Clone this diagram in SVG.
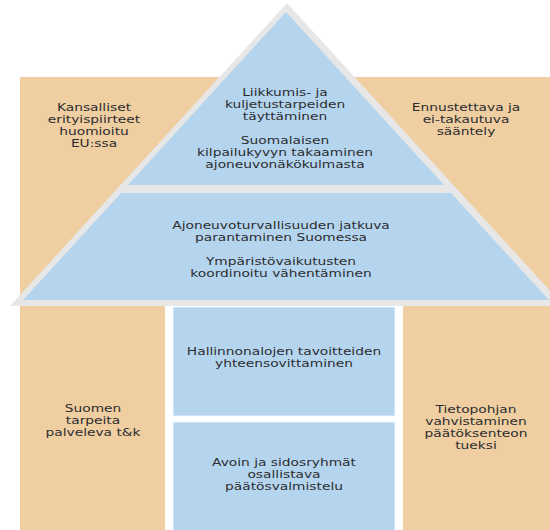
<svg xmlns="http://www.w3.org/2000/svg" width="550" height="530" viewBox="0 0 550 530">
<style>
.or{fill:#EFCEA1}
.bl{fill:#B5D5EE}
.bx{fill:#B5D5EE;stroke:#CFE3F4;stroke-width:1}
.gr{fill:#E7E7E7}
.t{font-family:"DejaVu Sans","Verdana",sans-serif;font-size:11.3px;fill:#2c2d30;text-anchor:middle}
</style>
<rect width="550" height="530" fill="#FFFFFF"/>
<g id="side-panels">
<rect class="or" x="20" y="77" width="530" height="453"/>
</g>
<g id="roof-frame">
<polygon class="gr" points="287,3 10,306 564,306"/>
</g>
<g id="top-triangle">
<polygon class="bl" points="286,12 128,185 444,185"/>
</g>
<g id="trapezoid">
<polygon class="bl" points="121,193 451,193 549,300 23,300"/>
</g>
<rect x="165" y="306" width="238" height="224" fill="#FFFFFF"/>
<g id="pillar-top">
<rect class="bx" x="173.5" y="307.5" width="221" height="108"/>
</g>
<g id="pillar-bottom">
<rect class="bx" x="173.5" y="422.5" width="221" height="108"/>
</g>
<g id="connectors"></g>
<g id="label-top-left" transform="translate(94 0) scale(1.22 1)">
<text class="t" x="0" y="111">Kansalliset</text>
<text class="t" x="0" y="123">erityispiirteet</text>
<text class="t" x="0" y="135">huomioitu</text>
<text class="t" x="0" y="147">EU:ssa</text>
</g>
<g id="label-top-right" transform="translate(466 0) scale(1.22 1)">
<text class="t" x="0" y="111">Ennustettava ja</text>
<text class="t" x="0" y="123">ei-takautuva</text>
<text class="t" x="0" y="135">sääntely</text>
</g>
<g id="label-triangle" transform="translate(285 0) scale(1.22 1)">
<text class="t" x="0" y="96.5">Liikkumis- ja</text>
<text class="t" x="0" y="108.5">kuljetustarpeiden</text>
<text class="t" x="0" y="120.5">täyttäminen</text>
<text class="t" x="0" y="144.5">Suomalaisen</text>
<text class="t" x="0" y="156.5">kilpailukyvyn takaaminen</text>
<text class="t" x="0" y="168.5">ajoneuvonäkökulmasta</text>
</g>
<g id="label-trapezoid" transform="translate(281 0) scale(1.22 1)">
<text class="t" x="0" y="229">Ajoneuvoturvallisuuden jatkuva</text>
<text class="t" x="0" y="241">parantaminen Suomessa</text>
<text class="t" x="0" y="265">Ympäristövaikutusten</text>
<text class="t" x="0" y="277">koordinoitu vähentäminen</text>
</g>
<g id="label-bottom-left" transform="translate(93 0) scale(1.22 1)">
<text class="t" x="0" y="412">Suomen</text>
<text class="t" x="0" y="424">tarpeita</text>
<text class="t" x="0" y="436">palveleva t&amp;k</text>
</g>
<g id="label-bottom-right" transform="translate(476 0) scale(1.22 1)">
<text class="t" x="0" y="413">Tietopohjan</text>
<text class="t" x="0" y="425">vahvistaminen</text>
<text class="t" x="0" y="437">päätöksenteon</text>
<text class="t" x="0" y="449">tueksi</text>
</g>
<g id="label-pillar-top" transform="translate(284 0) scale(1.22 1)">
<text class="t" x="0" y="355">Hallinnonalojen tavoitteiden</text>
<text class="t" x="0" y="367">yhteensovittaminen</text>
</g>
<g id="label-pillar-bottom" transform="translate(284 0) scale(1.22 1)">
<text class="t" x="0" y="466">Avoin ja sidosryhmät</text>
<text class="t" x="0" y="478">osallistava</text>
<text class="t" x="0" y="490">päätösvalmistelu</text>
</g>
</svg>
